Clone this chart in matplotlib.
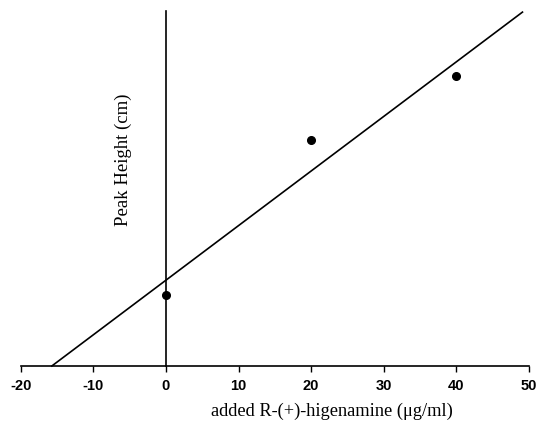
import numpy as np
import matplotlib.pyplot as plt

# dati (altezza picco in unita' arbitrarie)
conc = np.array([0, 20, 40])
peak = np.array([71, 226, 290])

# retta di calibrazione
slope = 5.46
intercept = 85.8
x_end = 49.1

xticks = [-20, -10, 0, 10, 20, 30, 40, 50]

x0 = -intercept / slope
xx = np.array([x0, x_end])

W, H = 538, 427
fig = plt.figure(figsize=(W/100, H/100), dpi=100)
ax = fig.add_axes([20.7/W, 60/H, 508.3/W, 355/H])

ax.plot(xx, slope*xx + intercept, color='black', lw=1.2, clip_on=False)
ax.plot(conc, peak, 'o', color='black', ms=5.5, clip_on=False)

ax.set_xlim(-20, 50)
ax.set_ylim(0, 355)

ax.spines['top'].set_visible(False)
ax.spines['right'].set_visible(False)
ax.spines['left'].set_position(('data', 0))
ax.spines['left'].set_linewidth(1.2)
ax.spines['bottom'].set_linewidth(1.2)
ax.set_yticks([])

ax.set_xticks(xticks)
ax.set_xticklabels([str(t) for t in xticks], fontfamily='Liberation Sans',
                   fontweight='bold', fontsize=10.5)
ax.tick_params(axis='x', direction='out', length=4, width=1, pad=5)

ax.set_xlabel('added R-(+)-higenamine (\u03bcg/ml)', fontfamily='Liberation Serif',
              fontsize=13.2)
ax.xaxis.set_label_coords(0.612, -0.10)
ax.set_ylabel('Peak Height (cm)', fontfamily='Liberation Serif', fontsize=13.5)
ax.yaxis.set_label_coords(0.218, 0.583)

plt.savefig('out.png', dpi=100)
